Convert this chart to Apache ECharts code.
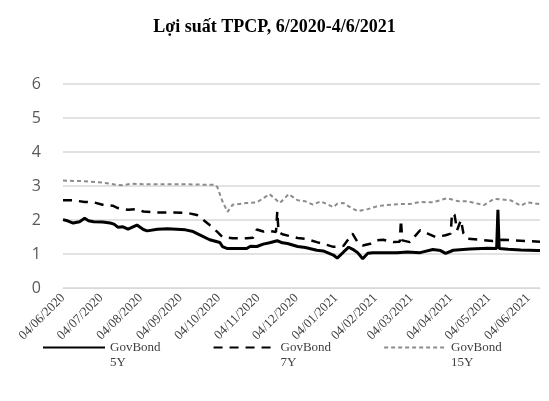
<!DOCTYPE html>
<html>
<head>
    <meta charset="utf-8">
    <title>Lợi suất TPCP</title>
    <script src="https://cdn.jsdelivr.net/npm/echarts@6/dist/echarts.min.js"></script>
    <style>
        html, body { margin: 0; padding: 0; background: #fff; }
        #main { width: 549px; height: 401px; }
    </style>
</head>
<body>
<div id="main"></div>
<script>
    // ngày trên trục (mỗi ngày một ô), nhãn hiện vào ngày 04 hàng tháng
    let startDay = '2020-06-04';
    let endDay = '2021-06-13';

    // [ngày, lợi suất %]
    let bond5Y = [
        ['2020-06-04', 2.01], ['2020-06-08', 1.97], ['2020-06-12', 1.91], ['2020-06-17', 1.95],
        ['2020-06-21', 2.05], ['2020-06-24', 1.98], ['2020-06-28', 1.95], ['2020-07-05', 1.94],
        ['2020-07-11', 1.91], ['2020-07-14', 1.88], ['2020-07-17', 1.79], ['2020-07-21', 1.80],
        ['2020-07-25', 1.73], ['2020-07-28', 1.78], ['2020-08-01', 1.85], ['2020-08-06', 1.72],
        ['2020-08-09', 1.68], ['2020-08-17', 1.73], ['2020-08-25', 1.74], ['2020-09-01', 1.73],
        ['2020-09-08', 1.71], ['2020-09-14', 1.66], ['2020-09-20', 1.55], ['2020-09-27', 1.42],
        ['2020-09-30', 1.39], ['2020-10-05', 1.34], ['2020-10-07', 1.22], ['2020-10-11', 1.16],
        ['2020-10-19', 1.16], ['2020-10-26', 1.16], ['2020-10-29', 1.23], ['2020-11-03', 1.22],
        ['2020-11-08', 1.29], ['2020-11-13', 1.33], ['2020-11-19', 1.39], ['2020-11-23', 1.33],
        ['2020-11-27', 1.31], ['2020-12-05', 1.22], ['2020-12-11', 1.19], ['2020-12-20', 1.11],
        ['2020-12-25', 1.09], ['2021-01-02', 0.97], ['2021-01-05', 0.88], ['2021-01-10', 1.06],
        ['2021-01-14', 1.20], ['2021-01-18', 1.12], ['2021-01-21', 1.04], ['2021-01-25', 0.86],
        ['2021-01-29', 1.02], ['2021-02-02', 1.04], ['2021-02-10', 1.04], ['2021-02-21', 1.04],
        ['2021-03-01', 1.06], ['2021-03-11', 1.04], ['2021-03-21', 1.13], ['2021-03-27', 1.10],
        ['2021-03-31', 1.02], ['2021-04-06', 1.11], ['2021-04-19', 1.15], ['2021-05-03', 1.17],
        ['2021-05-10', 1.16], ['2021-05-11', 2.30], ['2021-05-12', 1.16], ['2021-05-19', 1.14],
        ['2021-05-29', 1.12], ['2021-06-11', 1.10], ['2021-06-13', 1.10]
    ];

    let bond7Y = [
        ['2020-06-04', 2.58], ['2020-06-12', 2.58], ['2020-06-21', 2.53], ['2020-06-28', 2.52],
        ['2020-07-05', 2.45], ['2020-07-13', 2.42], ['2020-07-17', 2.35], ['2020-07-25', 2.30],
        ['2020-08-01', 2.32], ['2020-08-06', 2.25], ['2020-08-17', 2.22], ['2020-08-27', 2.22],
        ['2020-09-09', 2.21], ['2020-09-17', 2.15], ['2020-09-22', 2.00], ['2020-09-27', 1.85],
        ['2020-10-03', 1.65], ['2020-10-07', 1.50], ['2020-10-15', 1.46], ['2020-10-26', 1.46],
        ['2020-10-31', 1.48], ['2020-11-03', 1.72], ['2020-11-08', 1.66], ['2020-11-13', 1.68],
        ['2020-11-16', 1.66], ['2020-11-18', 1.65], ['2020-11-19', 2.25], ['2020-11-20', 1.65],
        ['2020-11-23', 1.58], ['2020-12-05', 1.47], ['2020-12-11', 1.45], ['2020-12-20', 1.35],
        ['2020-12-25', 1.30], ['2021-01-02', 1.21], ['2021-01-10', 1.24], ['2021-01-14', 1.45],
        ['2021-01-17', 1.60], ['2021-01-21', 1.35], ['2021-01-25', 1.25], ['2021-01-31', 1.30],
        ['2021-02-05', 1.40], ['2021-02-10', 1.42], ['2021-02-18', 1.35], ['2021-02-23', 1.36],
        ['2021-02-24', 2.00], ['2021-02-25', 1.40], ['2021-03-03', 1.35], ['2021-03-11', 1.70],
        ['2021-03-17', 1.60], ['2021-03-23', 1.50], ['2021-03-31', 1.55], ['2021-04-04', 1.60],
        ['2021-04-05', 2.20], ['2021-04-07', 2.15], ['2021-04-09', 1.70], ['2021-04-12', 2.00],
        ['2021-04-14', 1.60], ['2021-04-17', 1.45], ['2021-04-27', 1.42], ['2021-05-07', 1.38],
        ['2021-05-15', 1.42], ['2021-05-23', 1.40], ['2021-06-03', 1.38], ['2021-06-13', 1.36]
    ];

    let bond15Y = [
        ['2020-06-04', 3.16], ['2020-06-21', 3.14], ['2020-07-05', 3.10], ['2020-07-17', 3.03],
        ['2020-07-21', 3.02], ['2020-07-28', 3.07], ['2020-08-06', 3.05], ['2020-08-25', 3.05],
        ['2020-09-08', 3.05], ['2020-09-22', 3.04], ['2020-10-01', 3.04], ['2020-10-03', 2.97],
        ['2020-10-07', 2.55], ['2020-10-11', 2.24], ['2020-10-15', 2.45], ['2020-10-26', 2.50],
        ['2020-11-03', 2.52], ['2020-11-13', 2.76], ['2020-11-21', 2.50], ['2020-11-28', 2.76],
        ['2020-12-05', 2.58], ['2020-12-11', 2.55], ['2020-12-17', 2.45], ['2020-12-23', 2.55],
        ['2021-01-02', 2.38], ['2021-01-05', 2.48], ['2021-01-10', 2.50], ['2021-01-14', 2.40],
        ['2021-01-21', 2.26], ['2021-01-29', 2.32], ['2021-02-05', 2.40], ['2021-02-10', 2.43],
        ['2021-02-24', 2.47], ['2021-03-03', 2.47], ['2021-03-11', 2.53], ['2021-03-21', 2.52],
        ['2021-04-01', 2.64], ['2021-04-10', 2.55], ['2021-04-17', 2.55], ['2021-04-30', 2.44],
        ['2021-05-08', 2.62], ['2021-05-21', 2.58], ['2021-05-29', 2.42], ['2021-06-03', 2.52],
        ['2021-06-13', 2.47]
    ];

    let seriesNames = ['GovBond 5Y', 'GovBond 7Y', 'GovBond 15Y'];

    // danh sách ngày cho trục hoành
    let days = [];
    let d = new Date(startDay + 'T00:00:00Z');
    let last = new Date(endDay + 'T00:00:00Z');
    while (d <= last) {
        days.push(d.toISOString().slice(0, 10));
        d.setUTCDate(d.getUTCDate() + 1);
    }
    function toPoints(list) {
        return list.map(function (p) { return [days.indexOf(p[0]), p[1]]; });
    }

    var myChart = echarts.init(document.getElementById('main'));
    myChart.setOption({
        animation: false,
        title: {
            text: 'Lợi suất TPCP, 6/2020-4/6/2021',
            left: 'center',
            top: 13,
            textStyle: {fontFamily: 'Liberation Serif', fontWeight: 'bold', fontSize: 18, color: '#000'}
        },
        grid: {left: 63, right: 9, top: 84, bottom: 113},
        legend: {
            left: 37,
            top: 320,
            itemWidth: 62,
            itemHeight: 12,
            itemGap: 52,
            data: seriesNames,
            itemStyle: {opacity: 0},
            // dòng trống phía trên để chữ "GovBond" ngang với nét
            formatter: function (name) { return '\n' + name.replace(' ', '\n'); },
            textStyle: {fontFamily: 'Liberation Serif', fontSize: 13, color: '#404040', lineHeight: 15}
        },
        xAxis: {
            type: 'category',
            data: days,
            boundaryGap: false,
            axisLine: {lineStyle: {color: '#d9d9d9'}},
            axisTick: {show: false},
            axisLabel: {
                interval: function (idx, val) { return val.slice(8) === '04'; },
                rotate: 45,
                margin: 8,
                fontFamily: 'Liberation Serif',
                fontSize: 13,
                color: '#404040',
                formatter: function (val) {
                    return val.slice(8) + '/' + val.slice(5, 7) + '/' + val.slice(0, 4);
                }
            }
        },
        yAxis: {
            type: 'value',
            min: 0,
            max: 6,
            interval: 1,
            axisLine: {show: false},
            axisTick: {show: false},
            axisLabel: {fontFamily: 'Open Sans', fontSize: 16, color: '#595959', margin: 22},
            splitLine: {lineStyle: {color: '#d9d9d9', width: 1.5}}
        },
        series: [
            {
                name: seriesNames[0], type: 'line', symbol: 'none',
                data: toPoints(bond5Y),
                lineStyle: {color: '#000', width: 3}, itemStyle: {color: '#000'}, z: 4
            },
            {
                name: seriesNames[1], type: 'line', symbol: 'none',
                data: toPoints(bond7Y),
                lineStyle: {color: '#000', width: 2.5, type: [9, 7]}, itemStyle: {color: '#000'}, z: 3
            },
            {
                name: seriesNames[2], type: 'line', symbol: 'none',
                data: toPoints(bond15Y),
                lineStyle: {color: '#8c8c8c', width: 2, type: [4, 3]}, itemStyle: {color: '#8c8c8c'}, z: 2
            }
        ]
    });
</script>
</body>
</html>
